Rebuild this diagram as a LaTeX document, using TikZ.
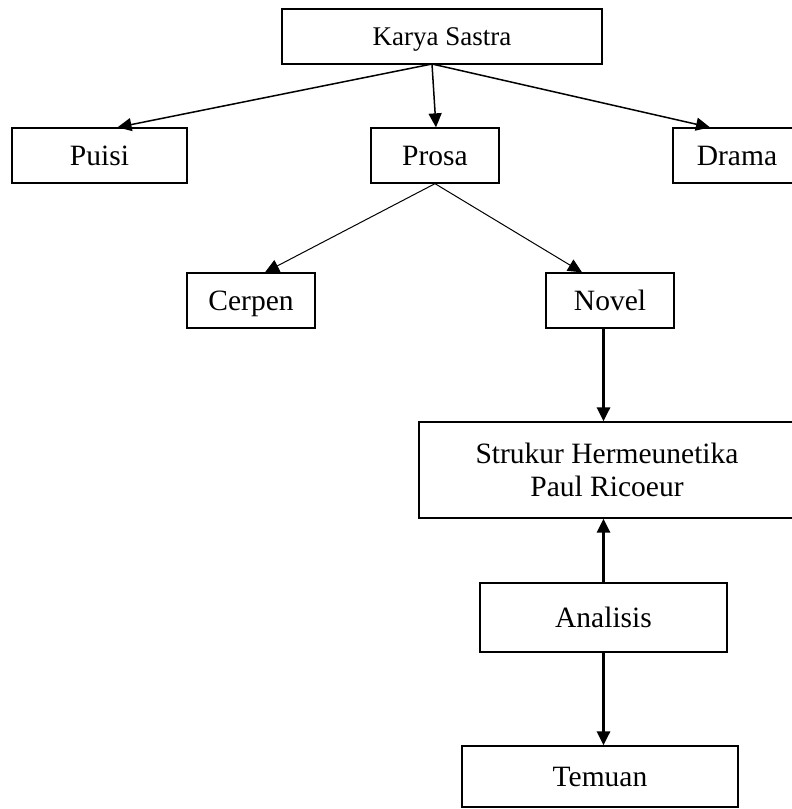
\documentclass[tikz,border=0pt]{standalone}
\usepackage{fontspec}
\setmainfont{Liberation Serif}
\usetikzlibrary{arrows.meta,positioning,calc}

\begin{document}
\begin{tikzpicture}[
    x=1pt, y=-1pt,
    box/.style={rectangle, draw, line width=1.3pt, inner sep=0pt, align=center, font=\fontsize{29.5}{33}\selectfont},
    onebox/.style={box, text height=19.5pt, text depth=0pt},
    arrow/.style={-{Triangle[length=14pt, width=13pt]}, line width=1.5pt},
    thinarrow/.style={arrow, line width=1pt},
    thickarrow/.style={arrow, line width=3pt}
]
\useasboundingbox (0,0) rectangle (792,809);
\clip (0,0) rectangle (792,809);

% Boxes
\node[onebox, minimum width=320pt, minimum height=55pt, text height=18pt, font=\fontsize{27}{30}\selectfont] (karya) at (442,36.5) {Karya Sastra};
\node[onebox, minimum width=175pt, minimum height=55pt] (puisi) at (99.5,155.5) {Puisi};
\node[onebox, minimum width=128pt, minimum height=55pt] (prosa) at (435,155.5) {Prosa};
\node[onebox, minimum width=128pt, minimum height=55pt] (drama) at (737,155.5) {Drama};
\node[onebox, minimum width=128pt, minimum height=55pt] (cerpen) at (251,300.5) {Cerpen};
\node[onebox, minimum width=128pt, minimum height=55pt] (novel) at (610,300.5) {Novel};
\node[box, minimum width=376pt, minimum height=96pt] (strukur) at (607,470) {Strukur Hermeunetika\\Paul Ricoeur};
\node[onebox, minimum width=247pt, minimum height=69pt] (analisis) at (603.5,617.5) {Analisis};
\node[onebox, minimum width=276pt, minimum height=61pt] (temuan) at (600,776.5) {Temuan};

% Arrows
\coordinate (kout) at (432,64);
\draw[arrow] (kout) -- ([xshift=18pt]puisi.north);
\draw[arrow] (kout) -- ([xshift=1pt]prosa.north);
\draw[arrow] (kout) -- ([xshift=-27pt]drama.north);
\draw[thinarrow] (prosa.south) -- ([xshift=14pt]cerpen.north);
\draw[thinarrow] (prosa.south) -- ([xshift=-28pt]novel.north);
\draw[thickarrow] (novel.south -| analisis.north) -- (strukur.north -| analisis.north);
\draw[thickarrow] (analisis.north) -- (strukur.south -| analisis.north);
\draw[thickarrow] (analisis.south) -- (temuan.north -| analisis.south);

\end{tikzpicture}
\end{document}
